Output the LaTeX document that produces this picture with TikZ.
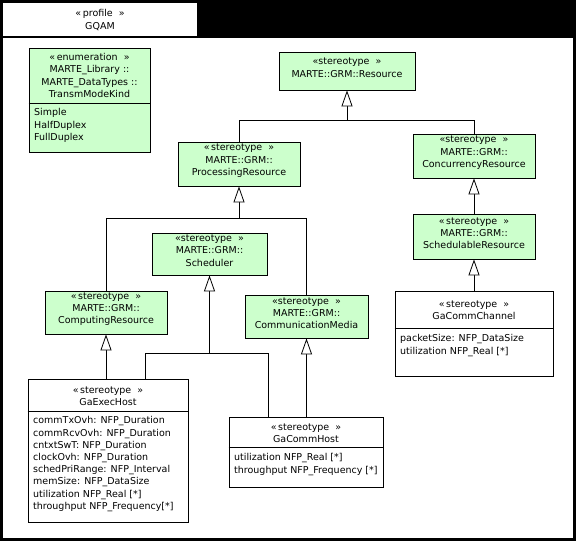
\documentclass[tikz,border=0pt]{standalone}
\usepackage{fontspec}
\setmainfont{DejaVu Sans}
\usetikzlibrary{arrows.meta,fit}
\definecolor{grn}{RGB}{204,255,204}
\begin{document}
\begin{tikzpicture}[x=1pt,y=-1pt,
  every node/.style={font=\fontsize{9.5}{12.2}\selectfont},
  boxbase/.style={draw=black, line width=0.8pt, inner sep=0pt, align=center},
  greenbox/.style={boxbase, fill=grn},
  whitebox/.style={boxbase, fill=white},
  attr/.style={anchor=north west, align=left, inner sep=0pt},
  head/.style={align=center, inner sep=0pt},
  gen/.style={line width=0.8pt, -{Triangle[length=16pt,width=11pt,fill=white,line width=0.8pt]}},
  conn/.style={line width=0.8pt}]
\useasboundingbox (0,0) rectangle (576,541);
\fill[black] (0,0) rectangle (576,541);
\fill[white] (3,3) rectangle (197,36);
\fill[white] (3,38) rectangle (573,538);
\node[head] (tab) at (100,20) {«\,profile\ \ »\\GQAM};

% enumeration
\node[greenbox, fit={(29,48) (150,152)}] (enum) {};
\draw[conn] (enum.west |- 0,103) -- (enum.east |- 0,103);
\node[head] (enumh) at (89.5,75.5) {«\,enumeration\ \ »\\MARTE\_Library ::\\MARTE\_DataTypes ::\\TransmModeKind};
\node[attr] (enuma) at (34,108.5) {Simple\\HalfDuplex\\FullDuplex};

% stereotypes
\node[greenbox, fit={(279,52) (415,90)}] (res) {«stereotype\ \ »\\MARTE::GRM::Resource};
\node[greenbox, fit={(178,142) (300,186)}] (procres) {«\,stereotype\ \ »\\MARTE::GRM::\\ProcessingResource};
\node[greenbox, fit={(413,134) (535,178)}] (concres) {«stereotype\ \ »\\MARTE::GRM::\\ConcurrencyResource};
\node[greenbox, fit={(413,214) (535,259)}] (schedres) {«\,stereotype\ \ »\\MARTE::GRM::\\SchedulableResource};
\node[greenbox, fit={(152,233) (267,275)}] (sched) {«stereotype\ \ »\\MARTE::GRM::\\Scheduler};
\node[greenbox, fit={(45,291) (167,334)}] (comp) {«\,stereotype\ \ »\\MARTE::GRM::\\ComputingResource};
\node[greenbox, fit={(245,295) (368,338)}] (comm) {«stereotype\ \ »\\MARTE::GRM::\\CommunicationMedia};

% GaCommChannel
\node[whitebox, fit={(395,291) (553,376)}] (chan) {};
\draw[conn] (chan.west |- 0,328) -- (chan.east |- 0,328);
\node[head] (chanh) at (474,310) {«\,stereotype\ \ »\\GaCommChannel};
\node[attr] (chana) at (400,334.5) {packetSize: NFP\_DataSize\\utilization NFP\_Real [*]};

% GaExecHost
\node[whitebox, fit={(28,379) (188,522)}] (exec) {};
\draw[conn] (exec.west |- 0,411) -- (exec.east |- 0,411);
\node[head] (exech) at (108,396) {«\,stereotype\ \ »\\GaExecHost};
\node[attr] (execa) at (33,416.5) {commTxOvh: NFP\_Duration\\commRcvOvh: NFP\_Duration\\cntxtSwT: NFP\_Duration\\clockOvh: NFP\_Duration\\schedPriRange: NFP\_Interval\\memSize: NFP\_DataSize\\utilization NFP\_Real [*]\\throughput NFP\_Frequency[*]};

% GaCommHost
\node[whitebox, fit={(229,417) (383,487)}] (host) {};
\draw[conn] (host.west |- 0,447) -- (host.east |- 0,447);
\node[head] (hosth) at (306,433) {«\,stereotype\ \ »\\GaCommHost};
\node[attr] (hosta) at (234,453.5) {utilization NFP\_Real [*]\\throughput NFP\_Frequency [*]};

% connectors
\coordinate (j1) at (0,120);
\coordinate (j2) at (0,218);
\coordinate (j3) at (145,353);
\coordinate (j4) at (268,353);
\draw[gen] (procres.north) |- (res.south |- j1) -- (res.south);
\draw[conn] (concres.north) |- (res.south |- j1);
\draw[gen] (comp.north) |- (procres.south |- j2) -- (procres.south);
\draw[conn] (comm.north) |- (procres.south |- j2);
\draw[gen] (schedres.north) -- (concres.south);
\draw[gen] (chan.north) -- (schedres.south);
\draw[gen] (comp.south |- exec.north) -- (comp.south);
\draw[gen] (exec.north -| j3) -- (j3) -- (sched.south |- j3) -- (sched.south);
\draw[conn] (host.north -| j4) -- (j4) -- (sched.south |- j3);
\draw[gen] (comm.south |- host.north) -- (comm.south);
\end{tikzpicture}
\end{document}
